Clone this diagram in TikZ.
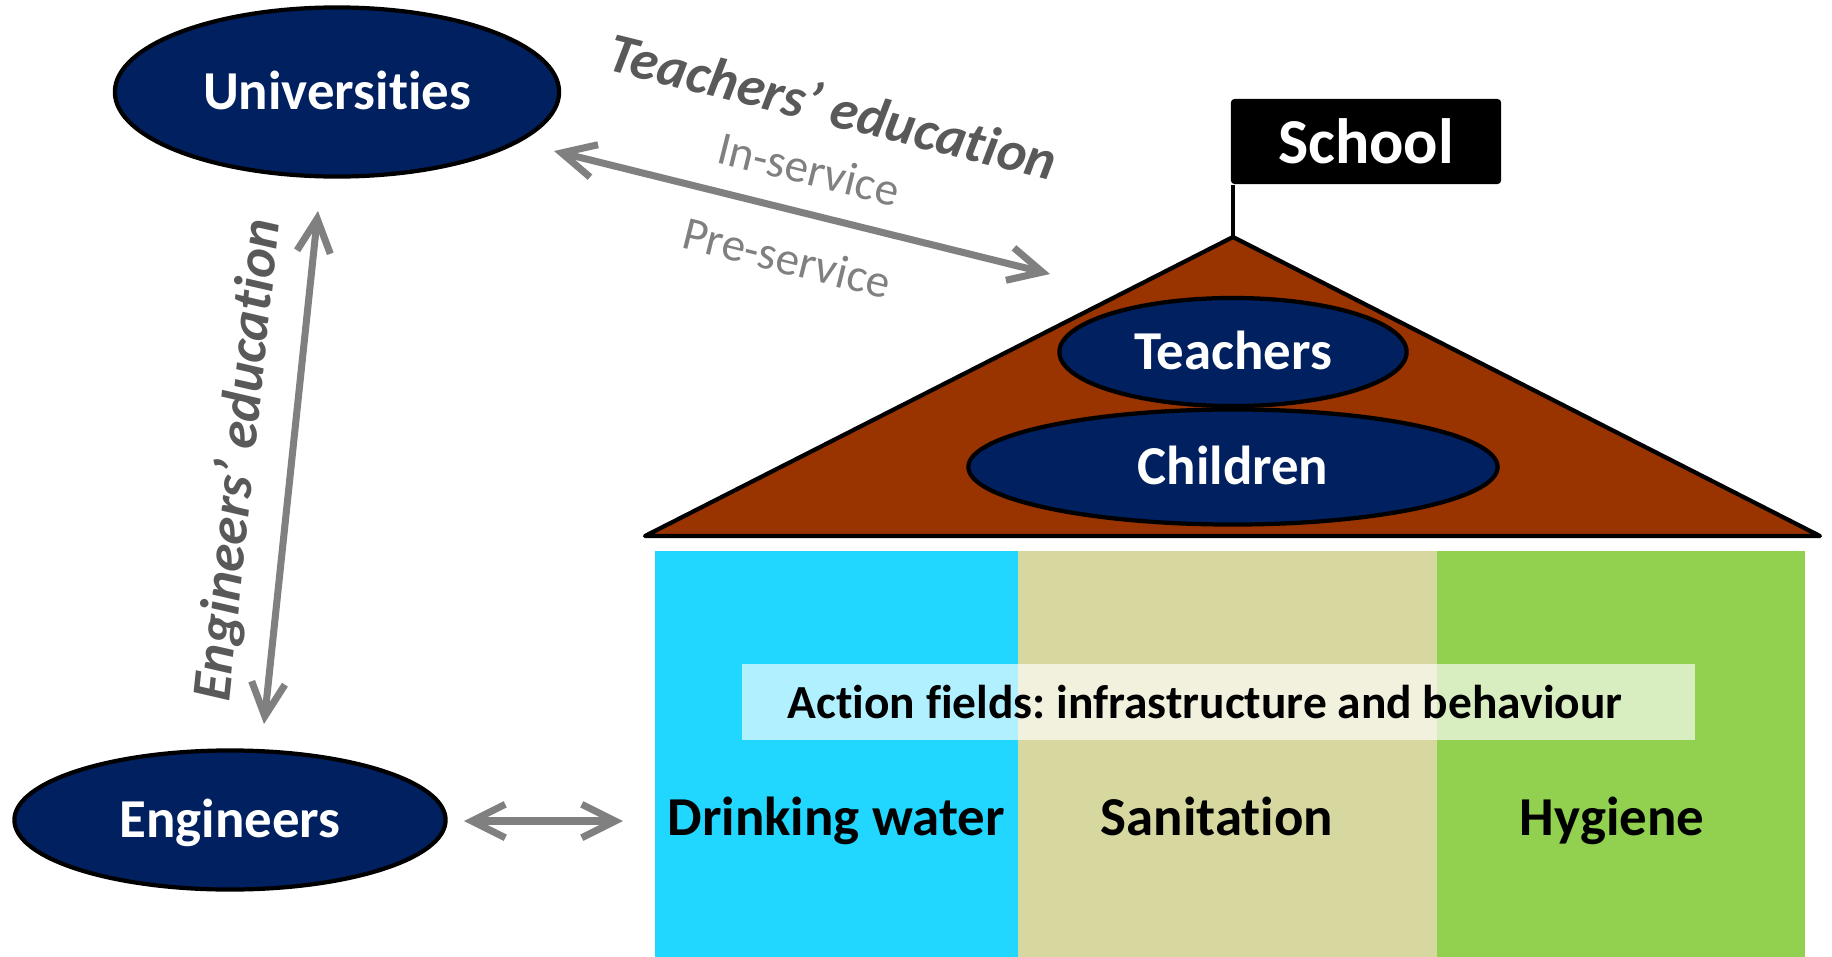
\documentclass[tikz,border=0pt]{standalone}
\usepackage{fontspec}
\setmainfont{Carlito}[Ligatures={NoCommon}]
\usetikzlibrary{arrows.meta,shapes.geometric}
\frenchspacing
\definecolor{navy}{HTML}{002060}
\definecolor{roofbrown}{HTML}{993300}
\definecolor{watercol}{HTML}{21D7FF}
\definecolor{sanicol}{HTML}{D7D7A0}
\definecolor{hygcol}{HTML}{92D050}
\definecolor{lblgray}{HTML}{595959}
\definecolor{arrgray}{HTML}{808080}
\begin{document}
\begin{tikzpicture}[x=0.01cm,y=-0.01cm,
    actor/.style={ellipse, draw=black, line width=1.2pt, fill=navy, text=white, inner sep=0pt,
      font=\bfseries\fontsize{15.6}{18}\selectfont, text height=10pt, text depth=0pt},
    twoway/.style={<->, >={Straight Barb[length=9.5pt,width=9.5pt]}, draw=arrgray, line width=2pt, line cap=round},
    edu/.style={text=lblgray, font=\bfseries\itshape\fontsize{15.9}{18}\selectfont},
    mode/.style={text=arrgray, font=\fontsize{13.4}{16}\selectfont},
    field/.style={anchor=base, font=\bfseries\fontsize{15.6}{18}\selectfont}]
        \useasboundingbox (0,0) rectangle (1832,957);
        % action fields
        \fill[watercol] (655,551) rectangle (1018,957);
        \fill[sanicol] (1018,551) rectangle (1437,957);
        \fill[hygcol] (1437,551) rectangle (1805,957);
        \fill[white, opacity=0.65] (742,664) rectangle (1695,740);
        \node[field, font=\bfseries\fontsize{13.5}{16}\selectfont] (act) at (1205,718) {Action fields: infrastructure and behaviour};
        \node[field] (drink) at (836,835) {Drinking water};
        \node[field] (sanit) at (1217,835) {Sanitation};
        \node[field] (hyg) at (1612,835) {Hygiene};
        % roof and flag
        \coordinate (apex) at (1233,237);
        \draw[fill=roofbrown, line width=1.2pt, line join=round] (apex) -- (645,536) -- (1820,536) -- cycle;
        \node[fill=black, text=white, minimum width=2.7cm, minimum height=0.85cm, rounded corners=1pt,
          font=\bfseries\fontsize{18.2}{21}\selectfont] (school) at (1366,141.5) {School};
        \draw[line width=1.3pt] (apex) -- (apex |- school.south);
        \node[actor, minimum width=5.29cm, minimum height=1.15cm] (kids) at (1233,467) {Children};
        \node[actor, minimum width=3.47cm, minimum height=1.08cm] (teach) at (1233,352) {Teachers};
        % actors outside
        \node[actor, minimum width=4.44cm, minimum height=1.69cm] (uni) at (337,92) {Universities};
        \node[actor, minimum width=4.31cm, minimum height=1.39cm] (eng) at (230,820) {Engineers};
        % links
        \coordinate (uniE) at (554,151);
        \coordinate (roofW) at (1050,274);
        \coordinate (uniS) at (318,211);
        \coordinate (engN) at (264,724);
        \coordinate (engE) at (464,821);
        \coordinate (drinkW) at (623,821);
        \draw[twoway] (uniE) -- (roofW);
        \draw[twoway] (uniS) -- (engN);
        \draw[twoway] (engE) -- (drinkW);
        \node[edu, rotate=-14] (tedu) at (833,106) {Teachers’ education};
        \node[mode, rotate=-14] (insrv) at (809,169) {In-service};
        \node[mode, rotate=-14] (presrv) at (787,258) {Pre-service};
        \node[edu, rotate=84] (eedu) at (239,460) {Engineers’ education};
\end{tikzpicture}
\end{document}
